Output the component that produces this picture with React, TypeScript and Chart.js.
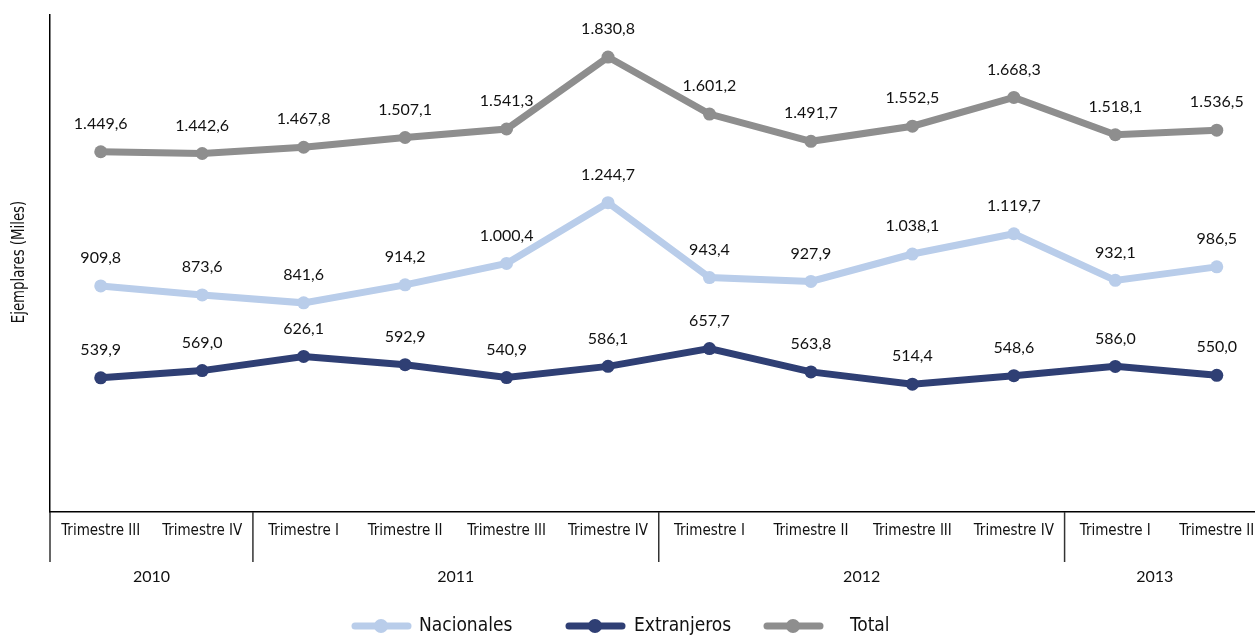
import React, { useEffect, useRef } from "react";
import { Chart, registerables } from "chart.js";

Chart.register(...registerables);

const categories = [
  "Trimestre III", "Trimestre IV",
  "Trimestre I", "Trimestre II", "Trimestre III", "Trimestre IV",
  "Trimestre I", "Trimestre II", "Trimestre III", "Trimestre IV",
  "Trimestre I", "Trimestre II",
];
const years = ["2010", "2011", "2012", "2013"];
const yearSpans = [2, 4, 4, 2];

const nacionales = [909.8, 873.6, 841.6, 914.2, 1000.4, 1244.7, 943.4, 927.9, 1038.1, 1119.7, 932.1, 986.5];
const extranjeros = [539.9, 569.0, 626.1, 592.9, 540.9, 586.1, 657.7, 563.8, 514.4, 548.6, 586.0, 550.0];
const total = [1449.6, 1442.6, 1467.8, 1507.1, 1541.3, 1830.8, 1601.2, 1491.7, 1552.5, 1668.3, 1518.1, 1536.5];

const seriesNames = ["Nacionales", "Extranjeros", "Total"];
const seriesColors = ["#B9CDEA", "#2F3F74", "#8E8E8E"];

const NARROW = '"Liberation Sans Narrow", "DejaVu Sans Condensed", sans-serif';
const NORMAL = 'Lato, "Open Sans", sans-serif';
const VIEW_W = 1255;

function fmt(v: number): string {
  const parts = v.toFixed(1).split(".");
  const int = parts[0].replace(/\B(?=(\d{3})+(?!\d))/g, ".");
  return int + "," + parts[1];
}

const overlayPlugin = {
  id: "overlay",
  afterDatasetsDraw(chart: any) {
    const ctx = chart.ctx;
    const area = chart.chartArea;
    const x = chart.scales.x;
    ctx.save();
    // data labels
    ctx.font = `16px ${NORMAL}`;
    ctx.fillStyle = "#111";
    ctx.textAlign = "center";
    ctx.textBaseline = "middle";
    chart.data.datasets.forEach((ds: any, di: number) => {
      const meta = chart.getDatasetMeta(di);
      meta.data.forEach((pt: any, i: number) => {
        ctx.fillText(fmt(ds.data[i]), pt.x, pt.y - 28);
      });
    });
    // group separators and year labels
    const half = (x.getPixelForValue(1) - x.getPixelForValue(0)) / 2;
    let idx = 0;
    ctx.strokeStyle = "#333";
    ctx.lineWidth = 1.5;
    ctx.font = `16px ${NORMAL}`;
    ctx.fillStyle = "#111";
    years.forEach((y, gi) => {
      const start = x.getPixelForValue(idx) - half;
      const end = x.getPixelForValue(idx + yearSpans[gi] - 1) + half;
      ctx.beginPath();
      ctx.moveTo(start, area.bottom);
      ctx.lineTo(start, area.bottom + 50);
      ctx.stroke();
      const cx = (start + Math.min(end, VIEW_W - 10)) / 2;
      ctx.fillText(y, cx, area.bottom + 65);
      idx += yearSpans[gi];
    });
    // y axis title
    ctx.save();
    ctx.translate(20, 262);
    ctx.rotate(-Math.PI / 2);
    ctx.scale(0.87, 1);
    ctx.font = `17px ${NARROW}`;
    ctx.fillText("Ejemplares (Miles)", 0, 0);
    ctx.restore();
    // legend
    const legendX = [352, 566, 764];
    const textX = [419, 634, 850];
    const ly = 626;
    ctx.font = `19px ${NARROW}`;
    ctx.textAlign = "left";
    seriesNames.forEach((name, i) => {
      const c = seriesColors[i];
      ctx.strokeStyle = c;
      ctx.lineWidth = 7;
      ctx.lineCap = "round";
      ctx.beginPath();
      ctx.moveTo(legendX[i] + 3, ly);
      ctx.lineTo(legendX[i] + 56, ly);
      ctx.stroke();
      ctx.fillStyle = c;
      ctx.beginPath();
      ctx.arc(legendX[i] + 29, ly, 7, 0, Math.PI * 2);
      ctx.fill();
      ctx.fillStyle = "#111";
      ctx.fillText(name, textX[i], ly);
    });
    ctx.restore();
  },
};

export default function App() {
  const ref = useRef<HTMLCanvasElement | null>(null);
  useEffect(() => {
    if (!ref.current) return;
    const mk = (label: string, data: number[], color: string) => ({
      label,
      data,
      borderColor: color,
      backgroundColor: color,
      borderWidth: 7,
      pointRadius: 6.5,
      pointBorderWidth: 0,
      pointBackgroundColor: color,
      tension: 0,
    });
    const chart = new Chart(ref.current, {
      type: "line",
      data: {
        labels: categories,
        datasets: [
          mk(seriesNames[0], nacionales, seriesColors[0]),
          mk(seriesNames[1], extranjeros, seriesColors[1]),
          mk(seriesNames[2], total, seriesColors[2]),
        ],
      },
      options: {
        responsive: false,
        animation: false,
        layout: { padding: { top: 15, right: 0, left: 0, bottom: 0 } },
        plugins: { legend: { display: false }, tooltip: { enabled: false } },
        scales: {
          x: {
            offset: true,
            grid: { display: false, drawTicks: false },
            border: { display: true, color: "#000", width: 1.5 },
            ticks: {
              color: "#111",
              font: { family: NARROW, size: 15 },
              padding: 10,
              maxRotation: 0,
              autoSkip: false,
            },
            afterFit: (s: any) => { s.height = 124; },
          },
          y: {
            min: 0,
            max: 2000,
            grid: { display: false, drawTicks: false },
            border: { display: true, color: "#000", width: 1.5 },
            ticks: { display: false },
            afterFit: (s: any) => { s.width = 50; },
          },
        },
      },
      plugins: [overlayPlugin],
    } as any);
    return () => chart.destroy();
  }, []);
  return (
    <div style={{ position: "absolute", left: 0, top: 0, width: VIEW_W, height: 636, overflow: "hidden", background: "#fff" }}>
      <canvas ref={ref} width={1274} height={636} style={{ display: "block" }} />
    </div>
  );
}
